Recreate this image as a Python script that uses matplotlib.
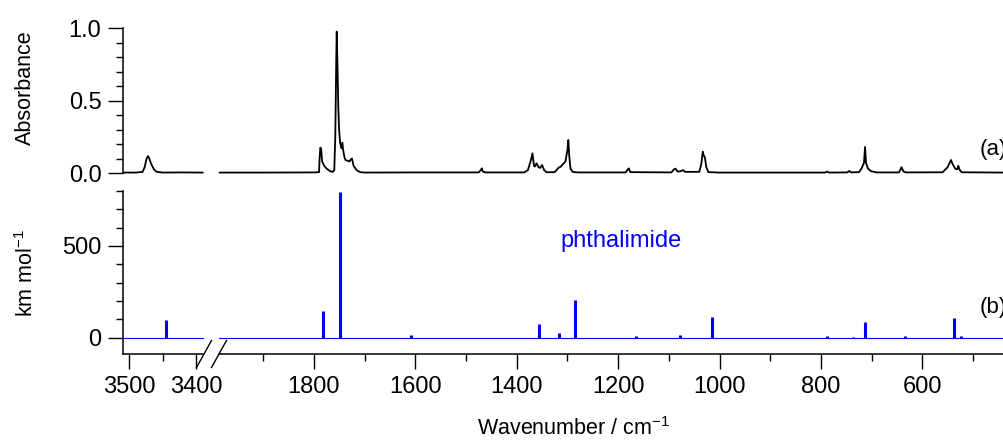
import matplotlib
matplotlib.use("Agg")
import matplotlib.pyplot as plt
from matplotlib.ticker import MultipleLocator, FixedLocator, FormatStrFormatter
from matplotlib.lines import Line2D

plt.rcParams['font.family'] = ['Liberation Sans', 'DejaVu Sans']
plt.rcParams['mathtext.fontset'] = 'custom'
plt.rcParams['mathtext.rm'] = 'Liberation Sans'
plt.rcParams['mathtext.default'] = 'regular'

# (a) measured spectrum, N-H stretch window
ir_wn_hi = [3508, 3490, 3480, 3477, 3474, 3472, 3470, 3467, 3463, 3459, 3450, 3420, 3390]
ir_abs_hi = [0.003, 0.003, 0.008, 0.04, 0.10, 0.117, 0.10, 0.06, 0.025, 0.008, 0.003, 0.004, 0.003]

# (a) measured spectrum, fingerprint window
ir_wn = [1986, 1900, 1800, 1790, 1789, 1787.5, 1786, 1784, 1780, 1775, 1768, 1763,
         1760, 1758, 1756, 1755.2, 1754, 1752, 1750.5, 1748.5, 1746, 1744, 1742.5,
         1740, 1738, 1734, 1730, 1727, 1725, 1722, 1716, 1709, 1700, 1600, 1475,
         1471, 1469, 1467, 1462, 1385, 1378, 1372, 1369, 1366, 1364, 1361, 1357,
         1354, 1350, 1346, 1341, 1325, 1318, 1313, 1309, 1304, 1300, 1298.3, 1296.5,
         1294, 1290, 1280, 1185, 1181, 1179, 1176, 1095, 1090, 1087, 1083, 1077,
         1072, 1068, 1040, 1036, 1033, 1031, 1029, 1026, 1022, 1000, 792, 788, 784,
         748, 744, 740, 725, 720, 715, 712.9, 711, 707, 701, 690, 646, 641, 637,
         632, 560, 550, 546, 543.4, 540, 535, 531, 529, 526, 522, 441]
ir_abs = [0.003, 0.003, 0.004, 0.006, 0.10, 0.175, 0.17, 0.08, 0.05, 0.03, 0.012, 0.008,
          0.02, 0.25, 0.80, 0.977, 0.80, 0.45, 0.30, 0.21, 0.17, 0.21, 0.16,
          0.11, 0.09, 0.085, 0.08, 0.095, 0.10, 0.05, 0.02, 0.006, 0.003, 0.004, 0.004,
          0.02, 0.032, 0.01, 0.004, 0.004, 0.02, 0.09, 0.136, 0.05, 0.045, 0.067, 0.04,
          0.035, 0.055, 0.02, 0.005, 0.006, 0.035, 0.045, 0.06, 0.08, 0.16, 0.228, 0.12,
          0.03, 0.008, 0.004, 0.004, 0.025, 0.032, 0.006, 0.004, 0.025, 0.03, 0.01, 0.012,
          0.02, 0.008, 0.008, 0.06, 0.147, 0.12, 0.11, 0.04, 0.006, 0.003, 0.003, 0.01, 0.003,
          0.004, 0.014, 0.004, 0.006, 0.03, 0.07, 0.18, 0.07, 0.03, 0.012, 0.004, 0.004, 0.04, 0.01,
          0.004, 0.005, 0.04, 0.07, 0.09, 0.06, 0.03, 0.025, 0.05, 0.02, 0.005, 0.003]

# (b) computed IR intensities for phthalimide
calc_wn = [3445, 1781.6, 1748.7, 1609, 1356, 1317, 1285, 1165, 1078, 1015, 787, 737, 712.4, 635, 536.8, 524]
calc_int = [98, 145, 795, 15, 73, 22, 204, 8, 12, 113, 7, 3, 83, 10, 107, 8]

W, H = 1004, 440
fig = plt.figure(figsize=(W / 100, H / 100), dpi=100)


def box(x0, y0, x1, y1):
    # pixel box -> figure fraction rect
    return [x0 / W, 1 - y1 / H, (x1 - x0) / W, (y1 - y0) / H]


ax_a1 = fig.add_axes(box(123, 28.3, 204, 173))
ax_a2 = fig.add_axes(box(219, 28.3, 1004, 173))
ax_b1 = fig.add_axes(box(123, 191, 204, 354))
ax_b2 = fig.add_axes(box(219, 191, 1004, 354))

blue = '#0000ff'

# top: measured spectrum
ax_a1.plot(ir_wn_hi, ir_abs_hi, color='black', lw=1.3, clip_on=False)
ax_a2.plot(ir_wn, ir_abs, color='black', lw=1.3, clip_on=False)

# bottom: sticks + zero line
for ax in (ax_b1, ax_b2):
    ax.axhline(0, color=blue, lw=0.8)
    ax.vlines(calc_wn, 0, calc_int, color=blue, lw=2.2)

for ax in (ax_a1, ax_b1):
    ax.set_xlim(3509.4, 3388)
for ax in (ax_a2, ax_b2):
    ax.set_xlim(1987.4, 438.8)

ax_a1.set_ylim(0, 1.0)
ax_a2.set_ylim(0, 1.0)
ax_b1.set_ylim(-90, 800)
ax_b2.set_ylim(-90, 800)

for ax in (ax_a1, ax_a2, ax_b1, ax_b2):
    for s in ax.spines.values():
        s.set_visible(False)
        s.set_linewidth(1.1)
    ax.tick_params(which='both', direction='out', width=1, labelsize=17, pad=5)
    ax.tick_params(which='major', length=10.5)
    ax.tick_params(which='minor', length=5)
    ax.patch.set_visible(False)

ax_a1.spines['left'].set_visible(True)
ax_b1.spines['left'].set_visible(True)
ax_b1.spines['bottom'].set_visible(True)
ax_b2.spines['bottom'].set_visible(True)

# y axes
ax_a1.yaxis.set_major_locator(MultipleLocator(0.5))
ax_a1.yaxis.set_minor_locator(MultipleLocator(0.1))
ax_a1.yaxis.set_major_formatter(FormatStrFormatter('%.1f'))
ax_b1.yaxis.set_major_locator(FixedLocator([0, 500]))
ax_b1.yaxis.set_minor_locator(FixedLocator([100, 200, 300, 400, 600, 700, 800]))
for ax in (ax_a2, ax_b2):
    ax.set_yticks([])
    ax.tick_params(axis='y', which='both', left=False)

# x axes
for ax in (ax_a1, ax_a2):
    ax.set_xticks([])
    ax.tick_params(axis='x', which='both', bottom=False)
ax_b1.xaxis.set_major_locator(FixedLocator([3500, 3400]))
ax_b1.xaxis.set_minor_locator(FixedLocator([3450]))
ax_b2.xaxis.set_major_locator(MultipleLocator(200))
ax_b2.xaxis.set_minor_locator(MultipleLocator(100))

# axis break marks
for xc in (204, 219):
    fig.add_artist(Line2D([(xc - 7.5) / W, (xc + 7.5) / W],
                          [1 - (354 + 13.5) / H, 1 - (354 - 13.5) / H],
                          color='black', lw=1))

# labels
fig.text(25 / W, 1 - 87.5 / H, 'Absorbance', rotation=90, ha='center', va='center', fontsize=15.5)
fig.text(27 / W, 1 - 273 / H, 'km mol$^{-1}$', rotation=90, ha='center', va='center', fontsize=15.5)
fig.text(574 / W, 1 - 435 / H, 'Wavenumber / cm$^{-1}$', ha='center', va='baseline', fontsize=15.5)
fig.text(621 / W, 1 - 246.5 / H, 'phthalimide', ha='center', va='baseline', fontsize=17, color=blue)
fig.text(980 / W, 1 - 150 / H, '(a)', ha='left', va='center', fontsize=16)
fig.text(980 / W, 1 - 308 / H, '(b)', ha='left', va='center', fontsize=16)

fig.savefig('out.png', dpi=100)
